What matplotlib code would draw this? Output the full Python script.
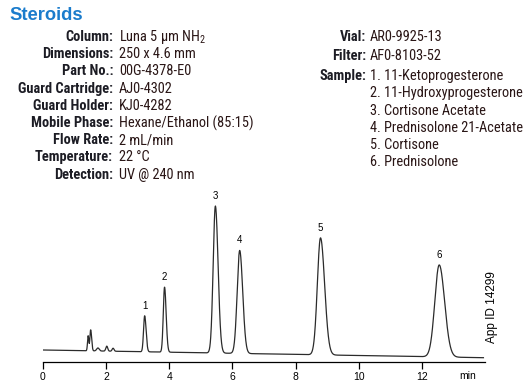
import numpy as np
import matplotlib
matplotlib.use("Agg")
import matplotlib.pyplot as plt

cond = ['Roboto Condensed', 'DejaVu Sans']
plain = ['Liberation Sans', 'DejaVu Sans']
plt.rcParams['font.family'] = cond
plt.rcParams['mathtext.fontset'] = 'custom'
plt.rcParams['mathtext.rm'] = 'Roboto Condensed'

# Header info
labels = ["Column:", "Dimensions:", "Part No.:", "Guard Cartridge:", "Guard Holder:",
          "Mobile Phase:", "Flow Rate:", "Temperature:", "Detection:"]
values = ["Luna 5 µm NH$_\\mathregular{2}$", "250 x 4.6 mm", "00G-4378-E0", "AJ0-4302", "KJ0-4282",
          "Hexane/Ethanol (85:15)", "2 mL/min", "22 °C", "UV @ 240 nm"]
right_labels = ["Vial:", "Filter:", "Sample:"]
right_values = ["AR0-9925-13", "AF0-8103-52"]
samples = ["1. 11-Ketoprogesterone", "2. 11-Hydroxyprogesterone", "3. Cortisone Acetate",
           "4. Prednisolone 21-Acetate", "5. Cortisone", "6. Prednisolone"]

# Peaks (retention time min, height, sigma left, sigma right)
rt = [1.43, 1.51, 1.74, 2.02, 2.22, 3.22, 3.85, 5.46, 6.23, 8.79, 12.55]
height = [15, 21, 3, 5, 3, 36, 65, 147, 103, 117, 92]
sig_l = [0.02, 0.025, 0.04, 0.03, 0.03, 0.035, 0.04, 0.07, 0.08, 0.10, 0.14]
sig_r = [0.02, 0.03, 0.04, 0.03, 0.03, 0.045, 0.05, 0.085, 0.095, 0.13, 0.17]
peak_no = ["", "", "", "", "", "1", "2", "3", "4", "5", "6"]
base_start, base_end = 12, 4.3
t_start, t_end = 0, 13.95

W, H = 530, 385
fig = plt.figure(figsize=(W / 100, H / 100), dpi=100)

def fx(x):
    return x / W

def fy(y):
    return 1 - y / H

fs = 10.4
fig.text(fx(9), fy(16), "Steroids", fontsize=13.2, fontweight='bold', color='#1b7ccc',
         family=plain, va='center', ha='left')

for i, (lab, val) in enumerate(zip(labels, values)):
    yy = 37 + i * 17.2
    fig.text(fx(113), fy(yy), lab, fontsize=fs, fontweight='bold', color='#1c1c24', ha='right', va='center')
    fig.text(fx(119), fy(yy), val, fontsize=fs, color='#2a1616', ha='left', va='center')

ry = [37, 56, 76]
for lab, yy in zip(right_labels, ry):
    fig.text(fx(366), fy(yy), lab, fontsize=fs, fontweight='bold', color='#1c1c24', ha='right', va='center')
for val, yy in zip(right_values, ry):
    fig.text(fx(370), fy(yy), val, fontsize=fs, color='#2a1616', ha='left', va='center')
for i, s in enumerate(samples):
    fig.text(fx(370), fy(76 + i * 17.3), s, fontsize=fs, color='#2a1616', ha='left', va='center')

# Chromatogram
ax = fig.add_axes([fx(43), fy(362), (485 - 43) / W, (362 - 190) / H])
t = np.linspace(t_start, t_end, 3000)
y = base_start + (base_end - base_start) * (t - t_start) / (t_end - t_start)
for r, h, sl, sr in zip(rt, height, sig_l, sig_r):
    s = np.where(t < r, sl, sr)
    y = y + h * np.exp(-0.5 * ((t - r) / s) ** 2)
ax.plot(t, y, color='#2b2b2b', lw=0.9)

for r, h, n in zip(rt, height, peak_no):
    if n:
        b = base_start + (base_end - base_start) * (r - t_start) / (t_end - t_start)
        ax.text(r, b + h + 5, n, fontsize=7, ha='center', va='bottom', family=plain)

ax.set_xlim(0, 14)
ax.set_ylim(0, 172)
for sp in ['top', 'right', 'left']:
    ax.spines[sp].set_visible(False)
ax.spines['bottom'].set_linewidth(0.9)
ax.set_yticks([])
ax.set_xticks(range(0, 14, 2))
ax.tick_params(axis='x', direction='out', length=5, width=0.9, labelsize=7.5, pad=2)
for lbl in ax.get_xticklabels():
    lbl.set_family(plain)
ax.text(13.45, -14, "min", fontsize=7.5, ha='center', va='center', family=plain)
fig.text(fx(492), fy(307), "App ID 14299", rotation=90, fontsize=8.5,
         family=plain, ha='center', va='center')

fig.savefig("out.png", dpi=100)
